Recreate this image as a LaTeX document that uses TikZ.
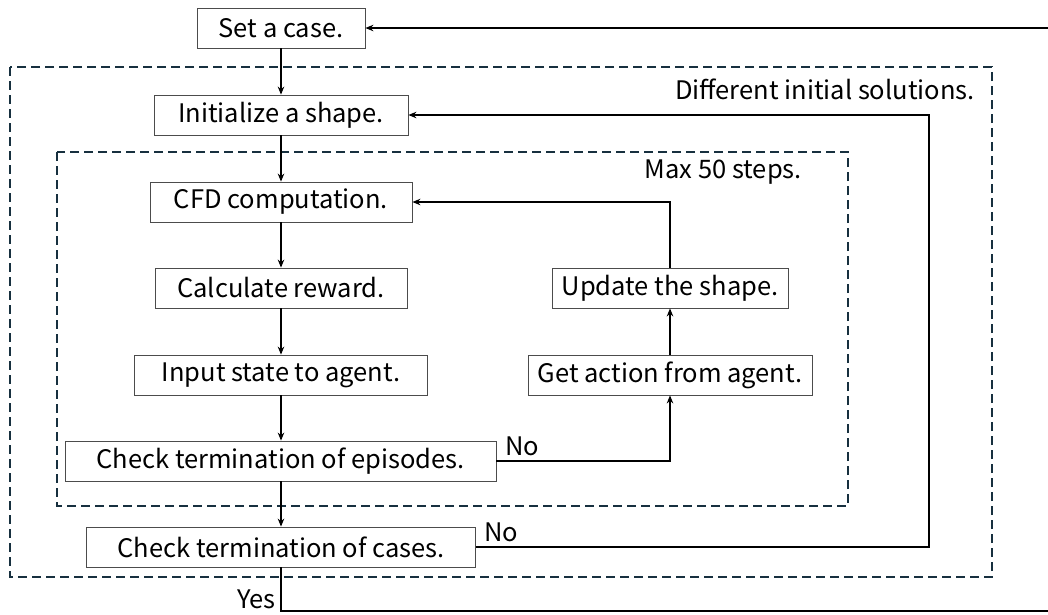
\documentclass[tikz,border=0pt]{standalone}
\usepackage{fontspec}
\setmainfont{Noto Sans CJK JP}
\usetikzlibrary{arrows.meta}
\definecolor{framecol}{HTML}{17303F}
\begin{document}
\begin{tikzpicture}[x=1pt,y=-1pt,
  box/.style={draw=black!70, line width=0.8pt, fill=white, minimum height=40pt, inner sep=0pt, font=\fontsize{25.5}{30}\selectfont},
  flow/.style={line width=1.8pt, -{Stealth[length=8pt,width=6.5pt]}},
  plain/.style={line width=1.8pt},
  frame/.style={draw=framecol, line width=1.8pt, dash pattern=on 9pt off 5pt},
  lbl/.style={inner sep=0pt, font=\fontsize{25.5}{30}\selectfont}]
\useasboundingbox (0,0) rectangle (1048,614);
% frames
\draw[frame] (10,67) rectangle (992,577);
\draw[frame] (57,152) rectangle (848,506);
\node[lbl, anchor=east] (lblA) at (975,89) {Different initial solutions.};
\node[lbl, anchor=east] (lblB) at (802,172) {Max 50 steps.};
% nodes
\node[box, minimum width=168pt] (set) at (281,28) {Set a case.};
\node[box, minimum width=254pt] (init) at (281,115) {Initialize a shape.};
\node[box, minimum width=262pt] (cfd) at (281,202) {CFD computation.};
\node[box, minimum width=252pt] (rew) at (281,288) {Calculate reward.};
\node[box, minimum width=293pt] (inp) at (281,375) {Input state to agent.};
\node[box, minimum width=431pt] (ep) at (280.5,461) {Check termination of episodes.};
\node[box, minimum width=389pt] (cas) at (281,547) {Check termination of cases.};
\node[box, minimum width=284pt] (act) at (670,375) {Get action from agent.};
\node[box, minimum width=236pt] (upd) at (670,288) {Update the shape.};
% coordinates
\coordinate (topR) at (1048,28);
\coordinate (botR) at (1048,611);
\coordinate (botL) at (281,611);
\coordinate (rv) at (929,547);
\coordinate (rvT) at (929,115);
\coordinate (ec) at (670,461);
\coordinate (uc) at (670,202);
% connectors
\draw[flow] (set) -- (init);
\draw[flow] (init) -- (cfd);
\draw[flow] (cfd) -- (rew);
\draw[flow] (rew) -- (inp);
\draw[flow] (inp) -- (inp |- ep.north);
\draw[flow] (ep.south -| cas.north) -- (cas);
\draw[flow] (ep.east) -- (ec) -- (act.south);
\draw[flow] (act) -- (upd);
\draw[flow] (upd.north) -- (uc) -- (cfd.east);
\draw[flow] (cas.east) -- (rv) -- (rvT) -- (init.east);
\draw[plain] (cas.south) -- (botL) -- (botR);
\draw[flow] (topR) -- (set.east);
% labels
\node[lbl, anchor=south west] (no1) at (505,456) {No};
\node[lbl, anchor=south west] (no2) at (484,542) {No};
\node[lbl, anchor=east] (yes) at (276,599) {Yes};
\end{tikzpicture}
\end{document}
